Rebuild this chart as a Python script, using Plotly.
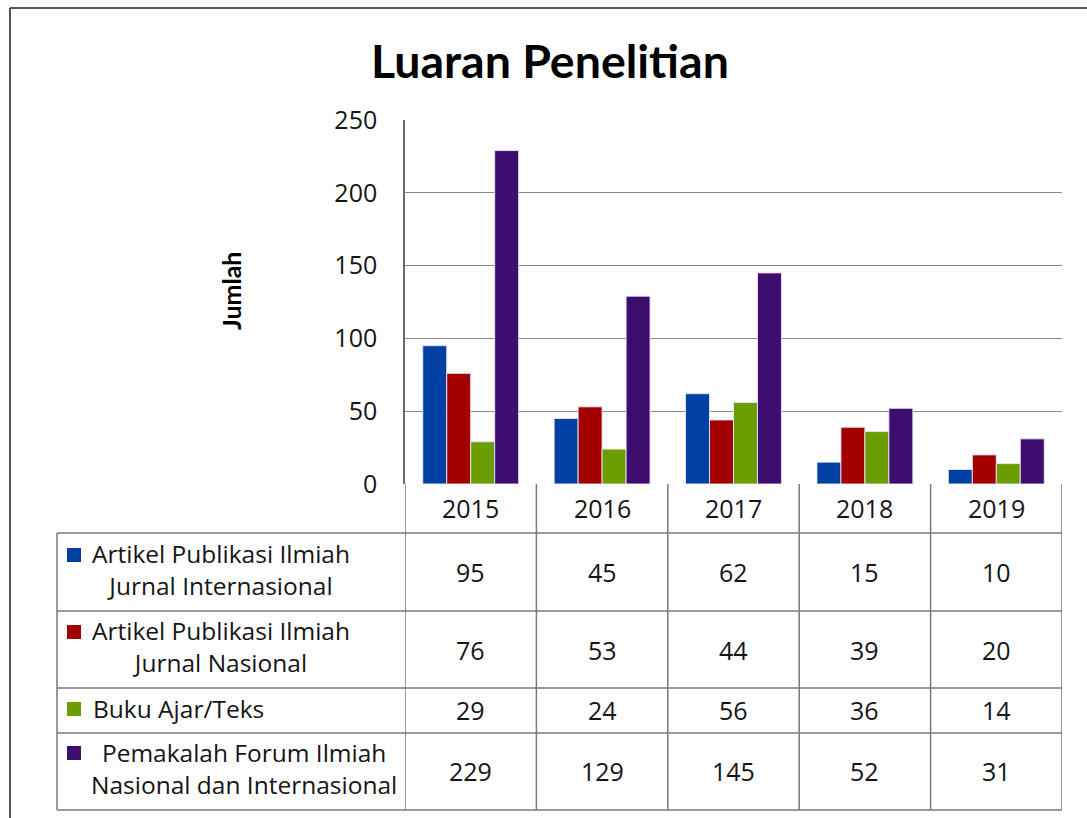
import plotly.graph_objects as go

years = ["2015", "2016", "2017", "2018", "2019"]
series_names = [
    "Artikel Publikasi Ilmiah<br>Jurnal Internasional",
    "Artikel Publikasi Ilmiah<br>Jurnal Nasional",
    "Buku Ajar/Teks",
    "Pemakalah Forum Ilmiah<br>Nasional dan Internasional",
]
intl_journal = [95, 45, 62, 15, 10]
natl_journal = [76, 53, 44, 39, 20]
textbooks = [29, 24, 56, 36, 14]
forum = [229, 129, 145, 52, 31]
y_ticks = [0, 50, 100, 150, 200, 250]

series_values = [intl_journal, natl_journal, textbooks, forum]
colors = ["#0040A2", "#A30000", "#6B9C00", "#3D0E70"]

W, H = 1087, 818
def px(x):
    return x / W
def py(y):
    return 1 - y / H

FONT = "Open Sans"
LINE = "#7a7a7a"
TXT = "#151515"

fig = go.Figure()
for name, vals, col in zip(series_names, series_values, colors):
    fig.add_trace(go.Bar(
        x=years, y=vals, name=name.replace("<br>", " "),
        marker=dict(color=col, line=dict(color="rgba(235,230,250,0.9)", width=1)),
        showlegend=False,
    ))

shapes = []
annotations = []

# outer chart border
shapes.append(dict(type="line", xref="paper", yref="paper", x0=px(10), x1=px(10), y0=py(8), y1=0,
                   line=dict(color="#555555", width=2)))
shapes.append(dict(type="line", xref="paper", yref="paper", x0=px(10), x1=1, y0=py(8), y1=py(8),
                   line=dict(color="#555555", width=2)))

# table horizontal lines
row_lines = [533, 611, 688, 733, 810]
for yl in row_lines:
    shapes.append(dict(type="line", xref="paper", yref="paper", x0=px(57), x1=px(1062), y0=py(yl), y1=py(yl),
                       line=dict(color=LINE, width=1.5)))
# left border of label column
shapes.append(dict(type="line", xref="paper", yref="paper", x0=px(57), x1=px(57), y0=py(533), y1=py(810),
                   line=dict(color=LINE, width=1.5)))
# vertical lines at category boundaries
for i in range(len(years) + 1):
    shapes.append(dict(type="line", xref="x", yref="paper", x0=i - 0.5, x1=i - 0.5, y0=py(484), y1=py(810),
                       line=dict(color=LINE, width=1.5)))

# year header
for i, yr in enumerate(years):
    annotations.append(dict(x=i, xref="x", y=py(508), yref="paper", text=yr, showarrow=False,
                            font=dict(family=FONT, size=25, color=TXT), xanchor="center", yanchor="middle"))

# rows
row_centers = [572, 650, 710, 771]
label_x = [221, 221, 91, 244]
label_anchor = ["center", "center", "left", "center"]
label_y = [569, 646, 708, 768]
key_y = [555, 632, 709, 753]
for r, (name, vals, col) in enumerate(zip(series_names, series_values, colors)):
    shapes.append(dict(type="rect", xref="paper", yref="paper", x0=px(67), x1=px(81),
                       y0=py(key_y[r] - 7), y1=py(key_y[r] + 7), fillcolor=col, line=dict(width=0)))
    annotations.append(dict(x=px(label_x[r]), xref="paper", y=py(label_y[r]), yref="paper", text=name,
                            showarrow=False, align="center", xanchor=label_anchor[r], yanchor="middle",
                            font=dict(family=FONT, size=24.5, color=TXT)))
    for i, v in enumerate(vals):
        annotations.append(dict(x=i, xref="x", y=py(row_centers[r]), yref="paper", text=str(v),
                                showarrow=False, xanchor="center", yanchor="middle",
                                font=dict(family=FONT, size=25, color=TXT)))

# title
annotations.append(dict(x=px(550), xref="paper", y=py(60), yref="paper", text="<b>Luaran Penelitian</b>",
                        showarrow=False, xanchor="center", yanchor="middle",
                        font=dict(family="Lato", size=46.5, color="#000000")))
# y axis title
annotations.append(dict(x=px(231), xref="paper", y=py(291), yref="paper", text="<b>Jumlah</b>",
                        showarrow=False, textangle=-90, xanchor="center", yanchor="middle",
                        font=dict(family="Lato", size=25, color="#000000")))

fig.update_layout(
    width=W, height=H,
    margin=dict(l=0, r=0, t=0, b=0, autoexpand=False),
    paper_bgcolor="white", plot_bgcolor="white",
    barmode="group", bargap=0.27, bargroupgap=0,
    shapes=shapes, annotations=annotations,
    xaxis=dict(type="category", domain=[px(405), px(1062)], range=[-0.5, 4.5], showticklabels=False,
               showgrid=False, showline=False, zeroline=False, fixedrange=True, automargin=False),
    yaxis=dict(domain=[py(484), py(120)], range=[0, 250], tickvals=y_ticks, showgrid=True,
               gridcolor="#8a8a8a", gridwidth=1, showline=True, linecolor="#6a6a6a", linewidth=1.5,
               zeroline=False, ticks="", ticklabelstandoff=21, automargin=False,
               tickfont=dict(family=FONT, size=25, color=TXT)),
)

fig.write_html("out.html", config={"displayModeBar": False},
               post_script="document.body.style.margin='0';")
